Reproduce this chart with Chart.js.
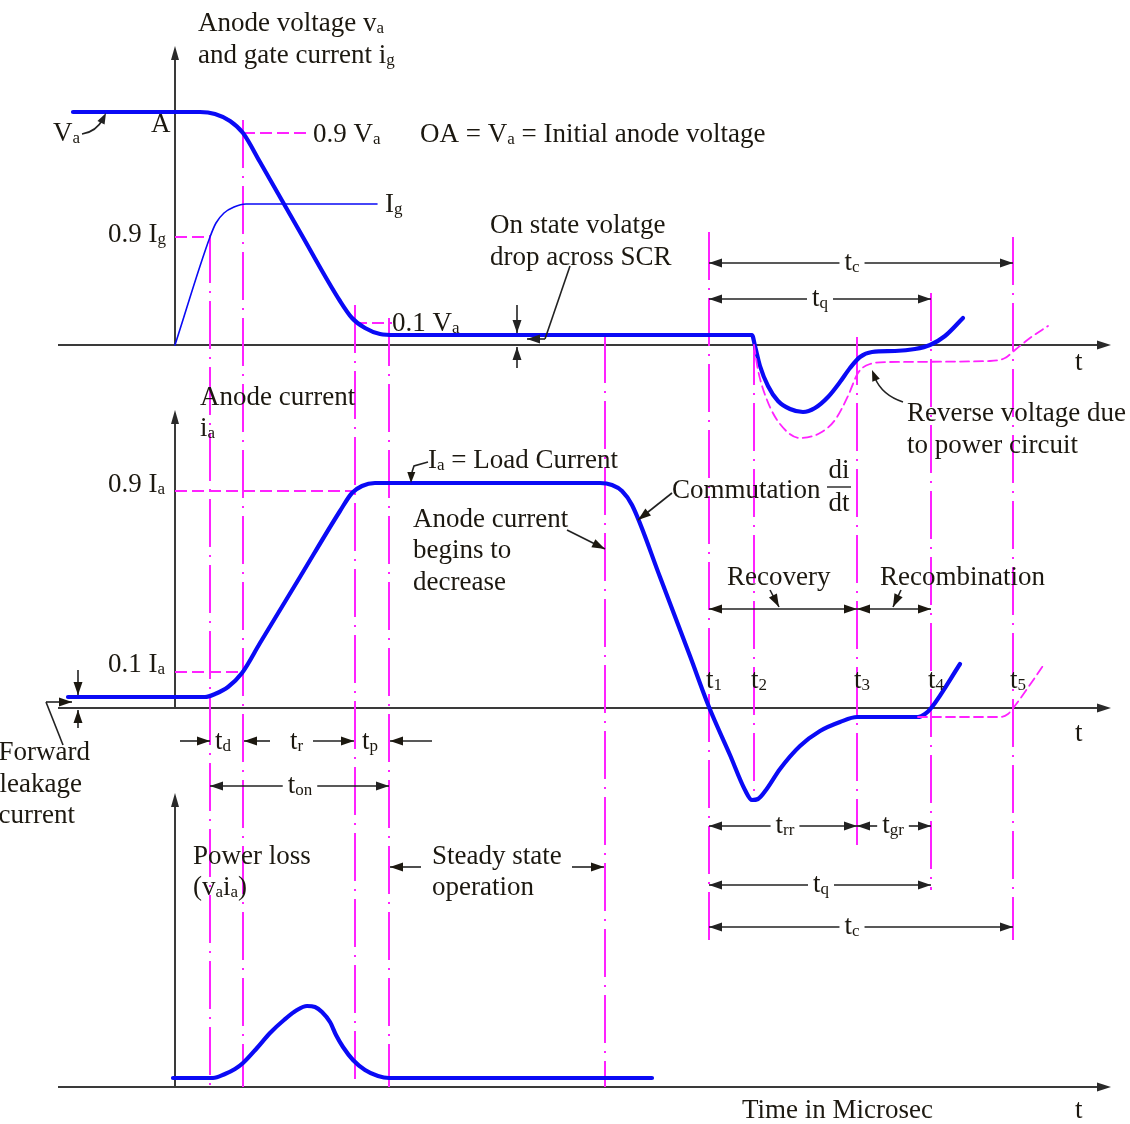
<!DOCTYPE html>
<html><head><meta charset="utf-8">
<script src="https://cdn.jsdelivr.net/npm/chart.js@4/dist/chart.umd.min.js"></script>
<style>html,body{margin:0;padding:0;background:#fff;overflow:hidden}#wrap{width:1130px;height:1124px}</style>
</head><body><div id="wrap"><canvas id="c" width="1130" height="1124"></canvas></div>
<script>
// ---- DATA (time axis in drawing units, values in drawing units) ----
const anodeVoltage = [[73,112],[200,112],[215,114],[230,121],[243,133],[260,162],[300,232],[340,301],[352,318],[365,328],[380,334],[395,335],[752,335],[755,346],[760,366],[768,386],[778,401],[790,409],[803,412],[815,408],[828,397],[840,382],[850,368],[860,357],[872,352],[895,351],[915,349],[930,345],[945,336],[963,318]];
const reverseVoltage = [[754,345],[758,370],[767,400],[780,424],[800,438],[820,433],[835,420],[848,396],[858,373],[870,364],[890,362],[990,361],[1005,358],[1015,350],[1030,338],[1048,326]];
const gateCurrent = [[175,345],[210,237],[216,223],[224,213],[234,207],[246,204],[377,204]];
const anodeCurrent = [[68,697],[205,697],[215,694],[228,687],[242,673],[260,643],[300,577],[340,511],[352,493],[362,486],[375,483],[600,483],[612,485],[622,491],[632,505],[660,577],[690,656],[709,707],[730,755],[745,790],[752,800],[758,799],[766,790],[780,769],[800,746],[820,731],[840,722],[857,717],[918,717],[925,714],[932,707],[960,664]];
const anodeCurrentAlt = [[918,717],[1000,717],[1008,714],[1014,707],[1045,663]];
const powerLoss = [[173,1078],[213,1078],[225,1074],[235,1069],[243,1063],[257,1048],[270,1033],[284,1020],[297,1010],[307,1006],[315,1007],[322,1012],[330,1022],[336,1035],[343,1047],[353,1060],[365,1070],[378,1076],[389,1078],[652,1078]];
const markerTimes = [210,243,355,389,605,709,754,857,931,1013];
const markerTop = [235,120,305,318,335,232,337,337,293,237];
const markerBottom = [1087,1087,1087,1087,1087,940,800,845,890,940];
const markerLabels = ['','','','','','1','2','3','4','5'];

const SERIF = '"Liberation Serif","Times New Roman",serif';
const TXT = '#1c1810';
const MAG = '#ff22ff';
const BLUE = '#0a0af5';
function F(s){return s+'px '+SERIF;}

function pts(a){return a.map(([x,y])=>({x,y}));}

let X, Y;
function rich(ctx,x,y,parts,size,align){
  const sub=Math.round(size*0.64);
  let w=0;
  const segs=parts.map(p=>{const s=Array.isArray(p);const t=s?p[0]:p;ctx.font=F(s?sub:size);const ww=ctx.measureText(t).width;w+=ww;return {t,s,ww};});
  let cx=align==='right'?x-w:align==='center'?x-w/2:x;
  const x0=cx;
  ctx.fillStyle=TXT;ctx.textAlign='left';ctx.textBaseline='alphabetic';
  segs.forEach(g=>{ctx.font=F(g.s?sub:size);ctx.fillText(g.t,cx,y+(g.s?2:0));cx+=g.ww;});
  return {x0,w};
}
function head(ctx,x,y,ang,len,hw){
  len=len||13;hw=hw||4.5;
  ctx.beginPath();
  ctx.moveTo(x,y);
  ctx.lineTo(x-len*Math.cos(ang)+hw*Math.sin(ang),y-len*Math.sin(ang)-hw*Math.cos(ang));
  ctx.lineTo(x-len*Math.cos(ang)-hw*Math.sin(ang),y-len*Math.sin(ang)+hw*Math.cos(ang));
  ctx.closePath();ctx.fill();
}
function line(ctx,x1,y1,x2,y2){ctx.beginPath();ctx.moveTo(x1,y1);ctx.lineTo(x2,y2);ctx.stroke();}
function arrow(ctx,x1,y1,x2,y2){
  line(ctx,x1,y1,x2,y2);head(ctx,x2,y2,Math.atan2(y2-y1,x2-x1));
}
function dim(ctx,x1,x2,y,parts,cx,size){
  const sub=Math.round(size*0.64);let w=0;
  parts.forEach(p=>{const s=Array.isArray(p);ctx.font=F(s?sub:size);w+=ctx.measureText(s?p[0]:p).width;});
  ctx.strokeStyle='#222';ctx.fillStyle='#222';ctx.lineWidth=1.6;
  line(ctx,x1,y,cx-w/2-5,y);line(ctx,cx+w/2+5,y,x2,y);
  head(ctx,x1,y,Math.PI);head(ctx,x2,y,0);
  rich(ctx,cx,y+7,parts,size,'center');
}

const guidePlugin={id:'guides',beforeDatasetsDraw(chart){
  const ctx=chart.ctx,sx=chart.scales.x,sy=chart.scales.y;
  X=v=>sx.getPixelForValue(v);Y=v=>sy.getPixelForValue(v);
  ctx.save();
  ctx.strokeStyle='#3a3a3a';ctx.fillStyle='#2a2a2a';ctx.lineWidth=2;
  [345,708,1087].forEach(y=>{line(ctx,X(58),Y(y),X(1098),Y(y));head(ctx,X(1111),Y(y),0,14,4.5);});
  [[345,46],[708,410],[1087,793]].forEach(([b,t])=>{line(ctx,X(175),Y(b),X(175),Y(t+10));head(ctx,X(175),Y(t),-Math.PI/2,14,4);});
  ctx.strokeStyle=MAG;ctx.lineWidth=2;ctx.setLineDash([48,8,2,8]);
  markerTimes.forEach((t,i)=>line(ctx,X(t),Y(markerTop[i]),X(t),Y(markerBottom[i])));
  ctx.setLineDash([12,5]);ctx.lineWidth=1.8;
  [[175,210,237],[243,308,133],[355,392,323],[175,355,491],[175,243,672]].forEach(([a,b,y])=>line(ctx,X(a),Y(y),X(b),Y(y)));
  ctx.setLineDash([]);
  ctx.restore();
}};

const annoPlugin={id:'anno',afterDatasetsDraw(chart){
  const ctx=chart.ctx;ctx.save();
  const S=27;
  const T=(x,y,p,al,sz)=>rich(ctx,X(x),Y(y),p,sz||S,al||'left');
  T(198,31,['Anode voltage v',['a']]);
  T(198,63,['and gate current i',['g']]);
  T(53,141,['V',['a']]);
  T(151,132,['A']);
  T(313,142,['0.9 V',['a']]);
  T(420,142,['OA = V',['a'],' = Initial anode voltage']);
  T(385,212,['I',['g']]);
  T(108,242,['0.9 I',['g']]);
  T(490,233,['On state volatge']);
  T(490,265,['drop across SCR']);
  T(392,331,['0.1 V',['a']]);
  T(1075,370,['t']);
  T(907,421,['Reverse voltage due']);
  T(907,453,['to power circuit']);
  T(200,405,['Anode current']);
  T(200,436,['i',['a']]);
  T(108,492,['0.9 I',['a']]);
  T(108,672,['0.1 I',['a']]);
  T(428,468,['I',['a'],' = Load Current']);
  T(413,527,['Anode current']);
  T(413,558,['begins to']);
  T(413,590,['decrease']);
  T(672,498,['Commutation']);
  T(839,478,['di'],'center');T(839,511,['dt'],'center');
  ctx.strokeStyle='#222';ctx.lineWidth=1.4;line(ctx,X(827),Y(487),X(851),Y(487));
  T(727,585,['Recovery']);
  T(880,585,['Recombination']);
  markerTimes.forEach((t,i)=>{if(markerLabels[i])T(t-3,688,['t',[markerLabels[i]]]);});
  T(1075,741,['t']);
  T(90,760,['Forward'],'right');
  T(82,792,['leakage'],'right');
  T(75,823,['current'],'right');
  T(193,864,['Power loss']);
  T(193,895,['(v',['a'],'i',['a'],')']);
  T(432,864,['Steady state']);
  T(432,895,['operation']);
  T(742,1118,['Time in Microsec']);
  T(1075,1118,['t']);
  ctx.strokeStyle='#222';ctx.fillStyle='#222';ctx.lineWidth=1.6;
  ctx.beginPath();ctx.moveTo(X(82),Y(134));ctx.quadraticCurveTo(X(96),Y(132),X(103),Y(119));ctx.stroke();head(ctx,X(106),Y(113),-1.1,11,4);
  arrow(ctx,X(517),Y(305),X(517),Y(333));arrow(ctx,X(517),Y(368),X(517),Y(347));
  line(ctx,X(570),Y(266),X(545),Y(339));arrow(ctx,X(545),Y(339),X(527),Y(339));
  dim(ctx,X(709),X(1013),Y(263),['t',['c']],X(852),S);
  dim(ctx,X(709),X(931),Y(299),['t',['q']],X(820),S);
  ctx.beginPath();ctx.moveTo(X(903),Y(402));ctx.quadraticCurveTo(X(882),Y(395),X(875),Y(378));ctx.stroke();head(ctx,X(872),Y(370),-1.95,11,4);
  ctx.beginPath();ctx.moveTo(X(428),Y(462));ctx.lineTo(X(414),Y(466));ctx.lineTo(X(412),Y(472));ctx.stroke();head(ctx,X(411),Y(483),1.6,11,4);
  arrow(ctx,X(567),Y(530),X(605),Y(549));
  arrow(ctx,X(672),Y(493),X(638),Y(520));
  line(ctx,X(709),Y(609),X(931),Y(609));
  head(ctx,X(709),Y(609),Math.PI);head(ctx,X(857),Y(609),0);head(ctx,X(857),Y(609),Math.PI);head(ctx,X(931),Y(609),0);
  arrow(ctx,X(770),Y(590),X(779),Y(607));arrow(ctx,X(901),Y(590),X(893),Y(607));
  arrow(ctx,X(78),Y(670),X(78),Y(695));arrow(ctx,X(78),Y(728),X(78),Y(710));
  line(ctx,X(63),Y(745),X(46),Y(702));arrow(ctx,X(46),Y(702),X(72),Y(702));
  arrow(ctx,X(180),Y(741),X(210),Y(741));T(215,749,['t',['d']]);
  arrow(ctx,X(270),Y(741),X(244),Y(741));T(290,749,['t',['r']]);
  arrow(ctx,X(313),Y(741),X(354),Y(741));T(362,749,['t',['p']]);
  arrow(ctx,X(432),Y(741),X(390),Y(741));
  dim(ctx,X(210),X(389),Y(786),['t',['on']],X(300),S);
  dim(ctx,X(709),X(857),Y(826),['t',['rr']],X(785),S);
  dim(ctx,X(857),X(931),Y(826),['t',['gr']],X(893),S);
  dim(ctx,X(709),X(931),Y(885),['t',['q']],X(821),S);
  dim(ctx,X(709),X(1013),Y(927),['t',['c']],X(852),S);
  arrow(ctx,X(421),Y(867),X(390),Y(867));arrow(ctx,X(572),Y(867),X(604),Y(867));
  ctx.restore();
}};

function ds(a,color,w,dash){return {data:pts(a),showLine:true,borderColor:color,borderWidth:w,borderDash:dash||[],cubicInterpolationMode:'monotone',pointRadius:0,fill:false,borderCapStyle:'round',borderJoinStyle:'round'};}

new Chart(document.getElementById('c'),{
  type:'scatter',
  data:{datasets:[
    ds(reverseVoltage,MAG,1.8,[9,5]),
    ds(anodeCurrentAlt,MAG,1.8,[9,5]),
    ds(gateCurrent,BLUE,1.6),
    ds(anodeVoltage,BLUE,4.2),
    ds(anodeCurrent,BLUE,4.2),
    ds(powerLoss,BLUE,4.2)
  ]},
  options:{responsive:false,animation:false,devicePixelRatio:1,layout:{padding:0},
    scales:{x:{type:'linear',min:0,max:1130,display:false},y:{type:'linear',min:0,max:1124,reverse:true,display:false}},
    plugins:{legend:{display:false},tooltip:{enabled:false}},
    elements:{point:{radius:0}}},
  plugins:[guidePlugin,annoPlugin]
});
</script></body></html>
